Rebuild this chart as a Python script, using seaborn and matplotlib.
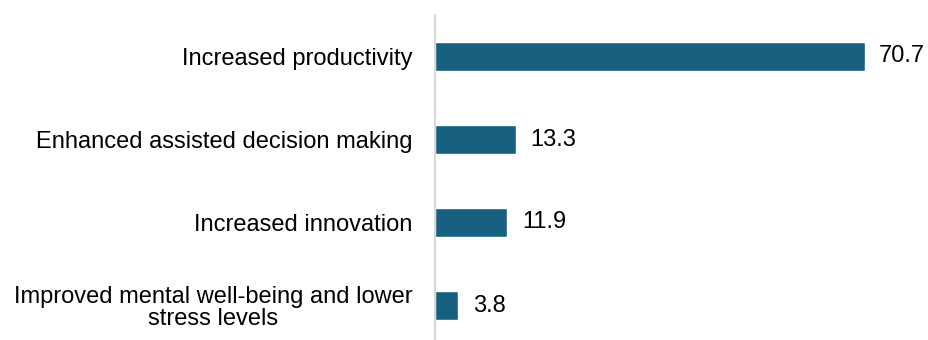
import matplotlib
matplotlib.use("Agg")
import matplotlib.pyplot as plt
import seaborn as sns
import pandas as pd

categories = [
    "Increased productivity",
    "Enhanced assisted decision making",
    "Increased innovation",
    "Improved mental well-being and lower\nstress levels",
]
values = [70.7, 13.3, 11.9, 3.8]

sns.set_theme(style="white")
plt.rcParams['font.family'] = ['Liberation Sans', 'DejaVu Sans']

df = pd.DataFrame({"cat": categories, "val": values})

fig = plt.figure(figsize=(9.29, 3.4), dpi=100)
ax = fig.add_axes([435 / 929, -7 / 340, (921 - 435) / 929, 332 / 340])
sns.barplot(data=df, y="cat", x="val", color="#17607F", saturation=1,
            width=0.36, ax=ax, orient="h")
ax.set_xlim(0, 80)
ax.set_ylim(3.5, -0.5)
ax.set_xlabel("")
ax.set_ylabel("")
ax.set_xticks([])
for s in ["top", "right", "bottom"]:
    ax.spines[s].set_visible(False)
ax.spines["left"].set_color("#D9D9D9")
ax.spines["left"].set_linewidth(1.5)
ax.tick_params(axis="y", length=0, pad=16, labelsize=17, labelcolor="#000000")
for lbl in ax.get_yticklabels():
    lbl.set_horizontalalignment("right")
    lbl.set_multialignment("center")
    lbl.set_linespacing(1.0)

for c in ax.containers:
    ax.bar_label(c, labels=[f"{v:.1f}" for v in values], padding=10.5,
                 fontsize=17, color="#000000")

fig.savefig("out.png", dpi=100)
